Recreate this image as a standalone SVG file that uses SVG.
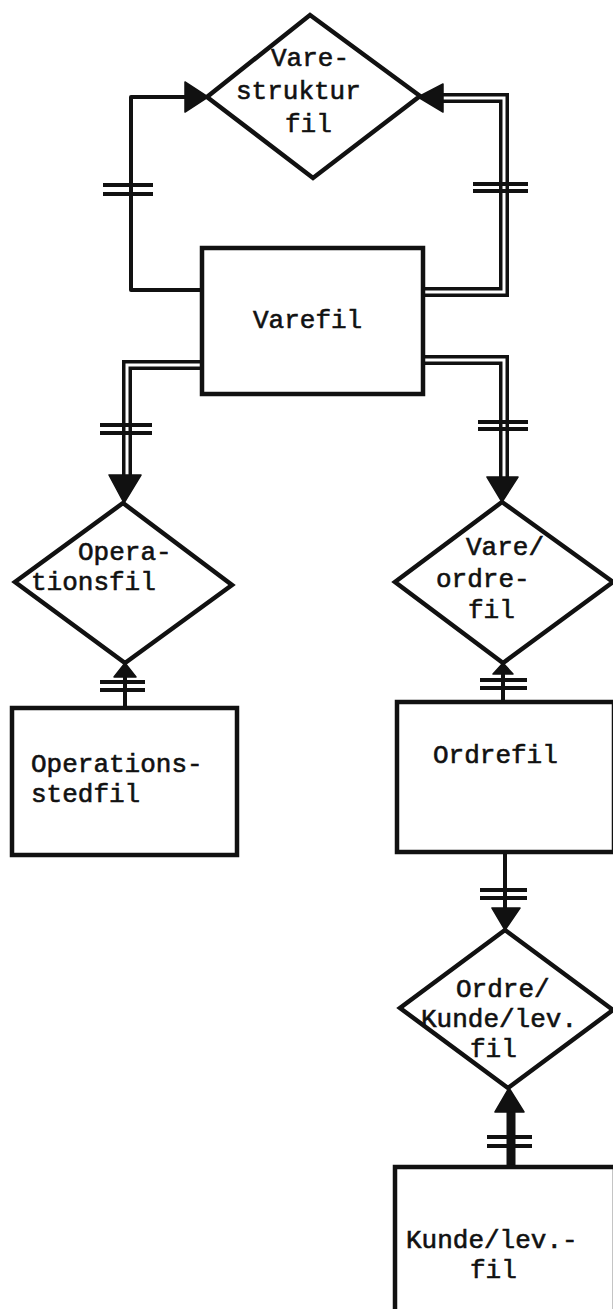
<svg xmlns="http://www.w3.org/2000/svg" width="613" height="1309" viewBox="0 0 613 1309">
  <style>
    .shape { fill: #fff; stroke: #111; stroke-width: 4.5; stroke-linejoin: miter; }
    .label { font-family: "Liberation Mono", "DejaVu Sans Mono", monospace; font-size: 26px; fill: #111; stroke: #111; stroke-width: 0.6; }
    .single { fill: none; stroke: #111; stroke-width: 4; stroke-linejoin: round; }
    .dbl-outer { fill: none; stroke: #111; stroke-width: 10; stroke-linejoin: miter; }
    .dbl-inner { fill: none; stroke: #fff; stroke-width: 3; stroke-linejoin: miter; }
    .thick { fill: none; stroke: #111; stroke-width: 9; }
    .tick { stroke: #111; stroke-width: 4; }
    .head { fill: #111; stroke: #111; stroke-width: 1.5; stroke-linejoin: round; }
  </style>
  <rect width="613" height="1309" fill="#fff"/>

  <!-- relationships between the files -->
  <g id="connectors">
    <!-- Varefil to Varestruktur (single line) -->
    <path class="single" d="M202,290 H131 V97 H192"/>
    <polygon class="head" points="185,82 208,97 185,112"/>
    <line class="tick" x1="103" y1="185" x2="153" y2="185"/>
    <line class="tick" x1="103" y1="194" x2="153" y2="194"/>

    <!-- Varefil to Varestruktur (double line) -->
    <path class="dbl-outer" d="M423,292 H504 V98 H438"/>
    <path class="dbl-inner" d="M423,292 H504 V98 H438"/>
    <polygon class="head" points="443,84 418,97 443,112"/>
    <line class="tick" x1="473" y1="184" x2="528" y2="184"/>
    <line class="tick" x1="473" y1="191" x2="528" y2="191"/>

    <!-- Varefil to Operationsfil -->
    <path class="dbl-outer" d="M202,365 H127 V482"/>
    <path class="dbl-inner" d="M202,365 H127 V482"/>
    <polygon class="head" points="109,475 141,475 124,503"/>
    <line class="tick" x1="100" y1="425" x2="152" y2="425"/>
    <line class="tick" x1="100" y1="433" x2="152" y2="433"/>

    <!-- Varefil to Vare/ordrefil -->
    <path class="dbl-outer" d="M423,360 H504 V482"/>
    <path class="dbl-inner" d="M423,360 H504 V482"/>
    <polygon class="head" points="487,477 518,477 502,502"/>
    <line class="tick" x1="478" y1="422" x2="528" y2="422"/>
    <line class="tick" x1="478" y1="429" x2="528" y2="429"/>

    <!-- Operationsstedfil to Operationsfil -->
    <line class="single" x1="125" y1="670" x2="125" y2="708"/>
    <polygon class="head" points="114,677 136,677 125,663"/>
    <line class="tick" x1="100" y1="682" x2="145" y2="682"/>
    <line class="tick" x1="100" y1="690" x2="145" y2="690"/>

    <!-- Ordrefil to Vare/ordrefil -->
    <line class="single" x1="503" y1="670" x2="503" y2="702"/>
    <polygon class="head" points="493,674 513,674 503,663"/>
    <line class="tick" x1="480" y1="680" x2="527" y2="680"/>
    <line class="tick" x1="480" y1="688" x2="527" y2="688"/>

    <!-- Ordrefil to Ordre/Kunde/lev.fil -->
    <line class="single" x1="505" y1="852" x2="505" y2="912"/>
    <polygon class="head" points="492,908 520,908 505,930"/>
    <line class="tick" x1="480" y1="890" x2="527" y2="890"/>
    <line class="tick" x1="480" y1="898" x2="527" y2="898"/>

    <!-- Kunde/lev.-fil to Ordre/Kunde/lev.fil -->
    <line class="thick" x1="511" y1="1108" x2="511" y2="1167"/>
    <polygon class="head" points="495,1112 524,1112 509,1088"/>
    <line class="tick" x1="487" y1="1137" x2="532" y2="1137"/>
    <line class="tick" x1="487" y1="1146" x2="532" y2="1146"/>
  </g>

  <g id="varestruktur">
    <polygon class="shape" points="310,15 420,96 313,178 207,97"/>
    <text class="label" x="271" y="66">Vare-</text>
    <text class="label" x="236" y="99">struktur</text>
    <text class="label" x="285" y="132">fil</text>
  </g>

  <g id="varefil">
    <rect class="shape" x="202" y="248" width="221" height="146"/>
    <text class="label" x="253" y="328">Varefil</text>
  </g>

  <g id="operationsfil">
    <polygon class="shape" points="123,503 232,585 125,663 15,582"/>
    <text class="label" x="78" y="560">Opera-</text>
    <text class="label" x="31" y="590">tionsfil</text>
  </g>

  <g id="operationsstedfil">
    <rect class="shape" x="12" y="708" width="225" height="147"/>
    <text class="label" x="31" y="772">Operations-</text>
    <text class="label" x="31" y="802">stedfil</text>
  </g>

  <g id="vareordrefil">
    <polygon class="shape" points="502,502 613,582 503,663 395,582"/>
    <text class="label" x="466" y="555">Vare/</text>
    <text class="label" x="436" y="587">ordre-</text>
    <text class="label" x="468" y="618">fil</text>
  </g>

  <g id="ordrefil">
    <rect class="shape" x="397" y="702" width="217" height="150"/>
    <text class="label" x="433" y="763">Ordrefil</text>
  </g>

  <g id="ordrekundelevfil">
    <polygon class="shape" points="505,930 613,1010 508,1088 400,1008"/>
    <text class="label" x="456" y="997">Ordre/</text>
    <text class="label" x="421" y="1027">Kunde/lev.</text>
    <text class="label" x="470" y="1057">fil</text>
  </g>

  <g id="kundelevfil">
    <rect class="shape" x="395" y="1167" width="220" height="160"/>
    <text class="label" x="406" y="1248">Kunde/lev.-</text>
    <text class="label" x="470" y="1278">fil</text>
  </g>
</svg>
